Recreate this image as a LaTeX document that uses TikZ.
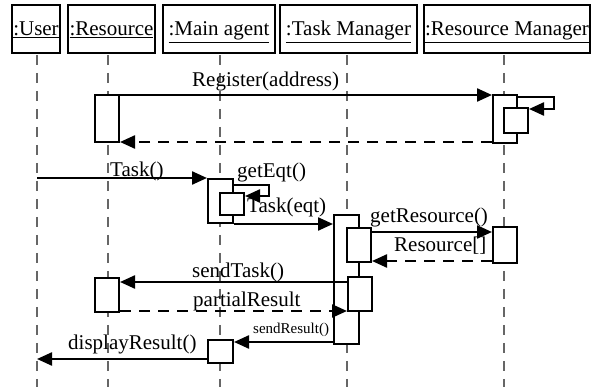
\documentclass[tikz,border=0pt]{standalone}
\usepackage{fontspec}
\setmainfont{Liberation Serif}
\usetikzlibrary{arrows.meta}
\definecolor{lifegray}{HTML}{666666}
\begin{document}
\begin{tikzpicture}[x=1pt,y=-1pt,
  txt/.style={font=\fontsize{21}{24}\selectfont, inner sep=0pt, anchor=base west},
  smalltxt/.style={font=\fontsize{15}{18}\selectfont, inner sep=0pt, anchor=base west},
  head/.style={draw, line width=2pt, inner sep=0pt, minimum height=48pt,
    font=\fontsize{21}{24}\selectfont, text height=16pt, text depth=2pt},
  lifeline/.style={draw=lifegray, line width=2pt, dash pattern=on 10pt off 8pt},
  act/.style={draw, fill=white, line width=2pt, inner sep=0pt},
  msg/.style={line width=2.3pt, -{Triangle[length=15pt,width=13pt]}},
  reply/.style={msg, dash pattern=on 11pt off 8pt},
]
\useasboundingbox (0,0) rectangle (595,387);

% object heads
\node[head, minimum width=48pt]  (hUser) at (36,29)    {\underline{:User}};
\node[head, minimum width=87pt]  (hRes)  at (111.5,29) {\underline{:Resource}};
\node[head, minimum width=112pt] (hMain) at (219,29)   {\underline{:Main agent}};
\node[head, minimum width=137pt] (hTM)   at (348.5,29) {\underline{:Task Manager}};
\node[head, minimum width=166pt] (hRM)   at (507,29)   {\underline{:Resource Manager}};

% lifelines
\coordinate (bottom) at (0,387);
\coordinate (lUser) at (37,55);
\coordinate (lRes)  at (108,55);
\coordinate (lMain) at (220,55);
\coordinate (lTM)   at (347,55);
\coordinate (lRM)   at (504,55);
\foreach \l in {lUser,lRes,lMain,lTM,lRM}
  \draw[lifeline] (\l) -- (\l |- bottom);

% activations
\node[act, minimum width=24pt, minimum height=47pt]  (aRes1)   at (107,118.5) {};
\node[act, minimum width=24pt, minimum height=48pt]  (aRM1)    at (505,119)   {};
\node[act, minimum width=24pt, minimum height=25pt]  (aRM1n)   at (516,120.5) {};
\node[act, minimum width=25pt, minimum height=44pt]  (aMain1)  at (220.5,201) {};
\node[act, minimum width=24pt, minimum height=22pt]  (aMain1n) at (232,204)   {};
\node[act, minimum width=25pt, minimum height=129pt] (aTM)     at (346.5,279.5) {};
\node[act, minimum width=24pt, minimum height=34pt]  (aTMn1)   at (359,245)   {};
\node[act, minimum width=24pt, minimum height=36pt]  (aRM2)    at (505,245)   {};
\node[act, minimum width=24pt, minimum height=34pt]  (aTMn2)   at (360,294)   {};
\node[act, minimum width=24pt, minimum height=34pt]  (aRes2)   at (107,295)   {};
\node[act, minimum width=25pt, minimum height=23pt]  (aMain2)  at (220.5,351.5) {};

% messages
\draw[msg] ([yshift=-1pt]aRes1.north east) -- ([yshift=-1pt]aRes1.north east -| aRM1.west);
\draw[reply] ([yshift=2pt]aRM1.south west) -- ([yshift=2pt]aRM1.south west -| aRes1.east);
\draw[msg] ([yshift=-3pt]aRM1.north east) -- ++(36,0) |- ([yshift=-2pt]aRM1n.north east);

\draw[msg] (aMain1.north west -| lUser) -- (aMain1.north west);
\draw[msg] ([yshift=-7pt]aMain1.north east) -- ++(35,0) |- ([yshift=-4pt]aMain1n.north east);
\draw[msg] (aMain1.south east) -- (aMain1.south east -| aTM.west);

\draw[msg] ([yshift=-5pt]aTMn1.north east) -- ([yshift=-5pt]aTMn1.north east -| aRM2.west);
\draw[reply] ([yshift=3pt]aRM2.south west) -- ([yshift=3pt]aRM2.south west -| aTMn1.east);

\draw[msg] ([yshift=-6pt]aTMn2.north west) -- ([yshift=-6pt]aTMn2.north west -| aRes2.east);
\draw[reply] ([yshift=2pt]aRes2.south east) -- ([yshift=2pt]aRes2.south east -| aTMn2.west);

\draw[msg] ([yshift=3pt]aTM.south west) -- ([yshift=3pt]aTM.south west -| aMain2.east);
\draw[msg] ([yshift=5pt]aMain2.south west) -- ([yshift=5pt]aMain2.south west -| lUser);

% message labels
\node[txt] (lbRegister) at (192,87)  {Register(address)};
\node[txt] (lbTask)     at (110,177) {Task()};
\node[txt] (lbGetEqt)   at (237,178) {getEqt()};
\node[txt] (lbTaskEqt)  at (247,213) {Task(eqt)};
\node[txt] (lbGetRes)   at (370,223) {getResource()};
\node[txt] (lbRes)      at (394,252) {Resource[]};
\node[txt] (lbSendTask) at (192,278) {sendTask()};
\node[txt] (lbPartial)  at (193,307) {partialResult};
\node[smalltxt] (lbSendRes) at (253,334) {sendResult()};
\node[txt] (lbDisplay)  at (68,350)  {displayResult()};
\end{tikzpicture}
\end{document}
